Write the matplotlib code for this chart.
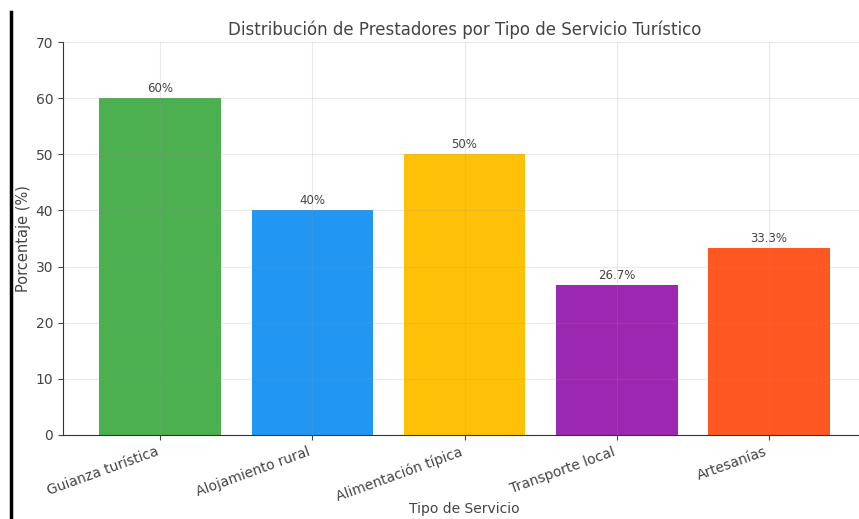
import matplotlib.pyplot as plt
from matplotlib.lines import Line2D

# datos
servicios = ['Guianza turística', 'Alojamiento rural', 'Alimentación típica',
             'Transporte local', 'Artesanías']
porcentajes = [60, 40, 50, 26.7, 33.3]
etiquetas = ['60%', '40%', '50%', '26.7%', '33.3%']
colores = ['#4CAF50', '#2196F3', '#FFC107', '#9C27B0', '#FF5722']

fig = plt.figure(figsize=(8.59, 5.19), dpi=100)
ax = fig.add_axes([0.0733, 0.162, 0.935, 0.757])

barras = ax.bar(servicios, porcentajes, color=colores, width=0.8)
for b, txt in zip(barras, etiquetas):
    ax.text(b.get_x() + b.get_width() / 2, b.get_height() + 0.6, txt,
            ha='center', va='bottom', fontsize=8.5, color='#444444')

ax.set_ylim(0, 70)
ax.set_xlim(-0.64, 4.64)
ax.grid(True, color='#999999', alpha=0.2, linewidth=0.8)
ax.set_axisbelow(False)
for s in ['top', 'right']:
    ax.spines[s].set_visible(False)
for s in ['left', 'bottom']:
    ax.spines[s].set_color('#333333')

ax.tick_params(colors='#444444', labelsize=10)
plt.setp(ax.get_xticklabels(), rotation=20, ha='right')
ax.set_title('Distribución de Prestadores por Tipo de Servicio Turístico',
             fontsize=12, color='#444444', pad=5)
ax.set_xlabel('Tipo de Servicio', fontsize=10, color='#444444')
ax.xaxis.set_label_coords(0.5, -0.172)
ax.set_ylabel('Porcentaje (%)', fontsize=10.5, color='#444444', labelpad=3)

# borde negro a la izquierda
fig.add_artist(Line2D([11 / 859, 11 / 859], [0, 1 - 12 / 519],
                      transform=fig.transFigure, color='black', linewidth=2.5))

fig.savefig('out.png', dpi=100)
